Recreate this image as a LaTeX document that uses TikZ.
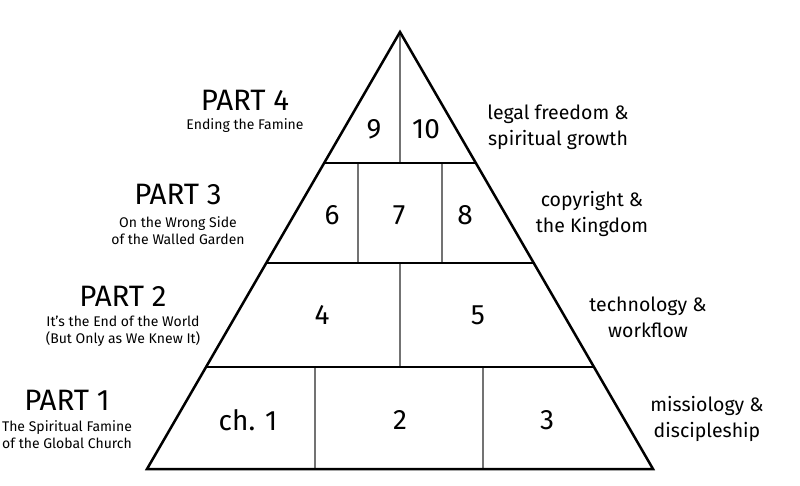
\documentclass[tikz,border=0pt]{standalone}
\usepackage{fontspec}
\setmainfont{Fira Sans}
\usetikzlibrary{positioning}
\usetikzlibrary{calc}

\begin{document}
\begin{tikzpicture}[x=1pt,y=-1pt,
  outline/.style={line width=2.5pt,line join=miter},
  divider/.style={line width=1.1pt,draw=black!55},
  chnum/.style={font=\fontsize{28}{30}\selectfont},
  parttitle/.style={font=\fontsize{29.5}{32}\selectfont},
  partsub/.style={font=\fontsize{14}{17}\selectfont,align=center},
  topic/.style={font=\fontsize{19.5}{26}\selectfont,align=center}]
\useasboundingbox (0,0) rectangle (800,486);

% pyramid corners
\coordinate (apex) at (400,32);
\coordinate (baseL) at (147,469);
\coordinate (baseR) at (653,469);
\coordinate (L4) at (324,163);
\coordinate (R4) at (476,163);
\coordinate (L3) at (266,263);
\coordinate (R3) at (534,263);
\coordinate (L2) at (206,367);
\coordinate (R2) at (594,367);

% chapter dividers
\coordinate (v10a) at (400,32);
\coordinate (v10b) at (400,163);
\coordinate (v6a) at (358,163);
\coordinate (v6b) at (358,263);
\coordinate (v8a) at (442,163);
\coordinate (v8b) at (442,263);
\coordinate (v4a) at (400,263);
\coordinate (v4b) at (400,367);
\coordinate (v1a) at (315,367);
\coordinate (v1b) at (315,469);
\coordinate (v3a) at (483,367);
\coordinate (v3b) at (483,469);

\path[divider]
(v10a) edge (v10b)
(v6a) edge (v6b)
(v8a) edge (v8b)
(v4a) edge (v4b)
(v1a) edge (v1b)
(v3a) edge (v3b);

\draw[outline] (apex) -- (baseR) -- (baseL) -- cycle;
\path[outline]
(L4) edge (R4)
(L3) edge (R3)
(L2) edge (R2);

% chapters
\node[chnum](ch9) at (374,129){9};
\node[chnum](ch10) at (426,129){10};
\node[chnum](ch6) at (332,215){6};
\node[chnum](ch7) at (399,215){7};
\node[chnum](ch8) at (465,215){8};
\node[chnum](ch4) at (322,315){4};
\node[chnum](ch5) at (478,315){5};
\node[chnum](ch1) at (248,420){ch. 1};
\node[chnum](ch2) at (400,420){2};
\node[chnum](ch3) at (547,420){3};

% parts
\node[parttitle](part4) at (245,100){PART 4};
\node[partsub](sub4) at (245,126){Ending the Famine};
\node[parttitle](part3) at (178,195){PART 3};
\node[partsub](sub3) at (178,231){On the Wrong Side\\of the Walled Garden};
\node[parttitle](part2) at (123,296){PART 2};
\node[partsub](sub2) at (123,331){It's the End of the World\\(But Only as We Knew It)};
\node[parttitle](part1) at (67,400){PART 1};
\node[partsub](sub1) at (67,435){The Spiritual Famine\\of the Global Church};

% topics
\node[topic](topic4) at (558,127){legal freedom \&\\spiritual growth};
\node[topic](topic3) at (592,214){copyright \&\\the Kingdom};
\node[topic](topic2) at (648,317){technology \&\\workflow};
\node[topic](topic1) at (707,419){missiology \&\\discipleship};
\end{tikzpicture}
\end{document}
